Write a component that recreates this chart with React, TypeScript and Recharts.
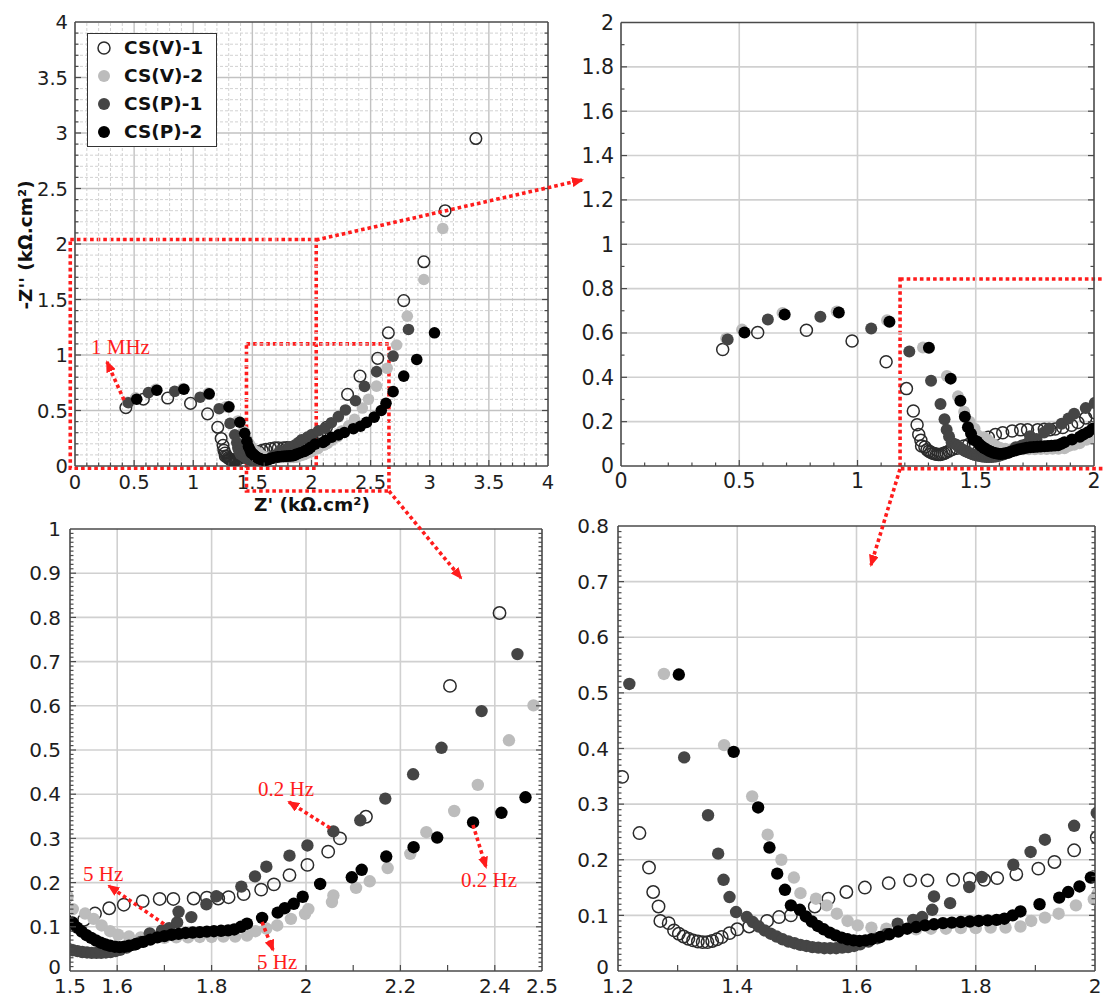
import React from 'react';
import { ScatterChart, Scatter, XAxis, YAxis, ReferenceLine, ReferenceArea, Legend } from 'recharts';

// ---------------- DATA ----------------
const SERIES_NAMES = ['CS(V)-1', 'CS(V)-2', 'CS(P)-1', 'CS(P)-2'];

const csV1: number[][] = [
  [0.43, 0.525], [0.578, 0.602], [0.784, 0.612], [0.977, 0.564], [1.121, 0.47], [1.207, 0.349], [1.236, 0.248],
  [1.252, 0.186], [1.259, 0.142], [1.268, 0.116], [1.271, 0.09], [1.285, 0.086], [1.294, 0.073], [1.302, 0.067],
  [1.31, 0.062], [1.318, 0.058], [1.326, 0.055], [1.334, 0.053], [1.342, 0.052], [1.35, 0.052], [1.358, 0.054],
  [1.366, 0.057], [1.374, 0.061], [1.387, 0.068], [1.4, 0.075], [1.42, 0.08], [1.45, 0.09], [1.47, 0.097],
  [1.49, 0.1], [1.53, 0.116], [1.553, 0.13], [1.583, 0.142], [1.614, 0.15], [1.654, 0.158], [1.69, 0.163],
  [1.719, 0.163], [1.762, 0.164], [1.79, 0.166], [1.814, 0.164], [1.836, 0.167], [1.868, 0.174], [1.905, 0.184],
  [1.932, 0.196], [1.965, 0.217], [2.003, 0.24], [2.047, 0.27], [2.072, 0.3], [2.127, 0.349], [2.305, 0.645],
  [2.41, 0.81], [2.56, 0.97], [2.65, 1.2], [2.78, 1.49], [2.95, 1.84], [3.13, 2.3], [3.39, 2.95],
];

const csV2: number[][] = [
  [0.445, 0.575], [0.512, 0.615], [0.683, 0.69], [0.912, 0.697], [1.125, 0.657], [1.277, 0.534], [1.378, 0.406],
  [1.425, 0.314], [1.451, 0.245], [1.474, 0.2], [1.495, 0.168], [1.506, 0.14], [1.532, 0.13], [1.55, 0.118],
  [1.567, 0.103], [1.585, 0.09], [1.602, 0.082], [1.625, 0.078], [1.65, 0.076], [1.675, 0.075], [1.7, 0.075],
  [1.725, 0.076], [1.75, 0.076], [1.775, 0.077], [1.8, 0.077], [1.825, 0.078], [1.85, 0.078], [1.875, 0.08],
  [1.893, 0.09], [1.916, 0.096], [1.939, 0.103], [1.968, 0.118], [1.998, 0.129], [2.005, 0.14], [2.055, 0.156],
  [2.058, 0.171], [2.106, 0.188], [2.135, 0.203], [2.173, 0.233], [2.221, 0.265], [2.255, 0.314], [2.314, 0.362],
  [2.364, 0.421], [2.43, 0.522], [2.482, 0.601], [2.55, 0.72], [2.64, 0.88], [2.72, 1.09], [2.81, 1.35],
  [2.95, 1.68], [3.11, 2.14],
];

const csP1: number[][] = [
  [0.451, 0.57], [0.621, 0.661], [0.843, 0.673], [1.058, 0.62], [1.219, 0.516], [1.311, 0.384], [1.351, 0.28],
  [1.368, 0.211], [1.377, 0.164], [1.387, 0.133], [1.398, 0.106], [1.416, 0.097], [1.426, 0.088], [1.436, 0.08],
  [1.446, 0.073], [1.456, 0.067], [1.466, 0.062], [1.476, 0.057], [1.486, 0.053], [1.496, 0.05], [1.506, 0.047],
  [1.516, 0.045], [1.526, 0.043], [1.536, 0.042], [1.546, 0.041], [1.556, 0.041], [1.566, 0.041], [1.576, 0.042],
  [1.586, 0.043], [1.596, 0.045], [1.606, 0.048], [1.62, 0.053], [1.635, 0.059], [1.65, 0.066], [1.669, 0.085],
  [1.695, 0.092], [1.71, 0.097], [1.727, 0.11], [1.73, 0.134], [1.757, 0.122], [1.789, 0.151], [1.81, 0.169],
  [1.863, 0.191], [1.892, 0.214], [1.916, 0.236], [1.965, 0.261], [2.003, 0.284], [2.058, 0.316], [2.115, 0.341],
  [2.168, 0.39], [2.227, 0.445], [2.287, 0.505], [2.372, 0.588], [2.448, 0.717], [2.55, 0.85], [2.69, 0.99],
  [2.82, 1.23],
];

const csP2: number[][] = [
  [0.522, 0.602], [0.692, 0.683], [0.921, 0.692], [1.135, 0.65], [1.302, 0.533], [1.394, 0.394], [1.435, 0.294],
  [1.454, 0.222], [1.467, 0.175], [1.48, 0.146], [1.49, 0.118], [1.505, 0.11], [1.515, 0.098], [1.525, 0.089],
  [1.535, 0.081], [1.545, 0.075], [1.555, 0.069], [1.565, 0.064], [1.575, 0.06], [1.585, 0.057], [1.595, 0.055],
  [1.605, 0.054], [1.615, 0.055], [1.625, 0.057], [1.64, 0.061], [1.655, 0.066], [1.67, 0.071], [1.685, 0.076],
  [1.7, 0.079], [1.715, 0.082], [1.73, 0.084], [1.745, 0.086], [1.76, 0.087], [1.775, 0.088], [1.79, 0.089],
  [1.805, 0.09], [1.82, 0.091], [1.835, 0.092], [1.848, 0.094], [1.862, 0.1], [1.875, 0.107], [1.907, 0.12],
  [1.94, 0.132], [1.955, 0.142], [1.974, 0.152], [1.993, 0.168], [2.03, 0.197], [2.097, 0.212], [2.118, 0.229],
  [2.17, 0.259], [2.228, 0.28], [2.278, 0.302], [2.354, 0.336], [2.414, 0.358], [2.465, 0.393], [2.53, 0.44],
  [2.59, 0.5], [2.63, 0.565], [2.69, 0.67], [2.78, 0.81], [2.89, 0.96], [3.04, 1.2],
];

// tick labels
const p1XLabels = [0, 0.5, 1, 1.5, 2, 2.5, 3, 3.5, 4];
const p1YLabels = [0, 0.5, 1, 1.5, 2, 2.5, 3, 3.5, 4];
const p2XLabels = [0, 0.5, 1, 1.5, 2];
const p2YLabels = [0, 0.2, 0.4, 0.6, 0.8, 1, 1.2, 1.4, 1.6, 1.8, 2];
const p3XLabels = [1.5, 1.6, 1.8, 2, 2.2, 2.4, 2.5];
const p3YLabels = [0, 0.1, 0.2, 0.3, 0.4, 0.5, 0.6, 0.7, 0.8, 0.9, 1];
const p4XLabels = [1.2, 1.4, 1.6, 1.8, 2];
const p4YLabels = [0, 0.1, 0.2, 0.3, 0.4, 0.5, 0.6, 0.7, 0.8];

// annotation texts
const ANNOT_1MHZ = '1 MHz';
const ANNOT_02HZ = '0.2 Hz';
const ANNOT_5HZ = '5 Hz';

// ---------------- STYLE / HELPERS ----------------
const RED = '#ff1c1c';
const FRAME = '#4a4a4a';
const FONT = '"DejaVu Sans", "Liberation Sans", Arial, sans-serif';
const SERIF = '"Liberation Serif", "Times New Roman", serif';
const STYLES = [
  { fill: 'none', stroke: '#2b2b2b', sw: 1.5 },
  { fill: '#bcbcbc', stroke: '#bcbcbc', sw: 0 },
  { fill: '#454545', stroke: '#454545', sw: 0 },
  { fill: '#000000', stroke: '#000000', sw: 0 },
];
const SERIES = [csV1, csV2, csP1, csP2].map((a) => a.map(([x, y]) => ({ x, y })));

const rnd = (v: number) => Math.round(v * 1e6) / 1e6;
const steps = (a: number, b: number, s: number) => {
  const out: number[] = [];
  const n = Math.round((b - a) / s);
  for (let i = 0; i <= n; i++) out.push(rnd(a + i * s));
  return out;
};
const uniq = (...arrs: number[][]) => Array.from(new Set(arrs.flat().map(rnd))).sort((p, q) => p - q);
const has = (arr: number[], v: number) => arr.some((t) => Math.abs(t - v) < 1e-7);

type AxisSpec = {
  domain: [number, number];
  labels: number[];
  long: number[];
  short: number[];
  grid: number[];
  minorGrid?: number[];
};
type PanelSpec = {
  left: number; top: number; width: number; height: number;
  plot: { left: number; top: number; right: number; bottom: number };
  x: AxisSpec; y: AxisSpec;
  fontSize: number; xGap: number; yGap: number;
  gridColor: string; gridWidth: number;
  r: number;
  zeroLift: number;
};

function makeTick(
  side: 'bottom' | 'top' | 'left' | 'right',
  spec: AxisSpec,
  gap: number,
  fontSize: number,
  zeroLift = 0,
) {
  return (props: any) => {
    const { x, y, payload } = props;
    const v = payload.value;
    const isLabel = has(spec.labels, v);
    const isLong = isLabel || has(spec.long, v);
    const len = isLong ? 6 : 3.5;
    const atMin = Math.abs(v - spec.domain[0]) < 1e-7;
    const edge = atMin || Math.abs(v - spec.domain[1]) < 1e-7;
    let line: React.ReactNode = null;
    let text: React.ReactNode = null;
    if (side === 'bottom') {
      const y0 = y - gap;
      if (!edge) line = <line x1={x} y1={y0} x2={x} y2={y0 - len} stroke={FRAME} strokeWidth={1.2} />;
      if (isLabel)
        text = (
          <text x={x} y={y} dy="0.73em" textAnchor="middle" fontSize={fontSize} fontFamily={FONT} fill="#1e1e1e">
            {String(v)}
          </text>
        );
    } else if (side === 'left') {
      const x0 = x + gap;
      if (!edge) line = <line x1={x0} y1={y} x2={x0 + len} y2={y} stroke={FRAME} strokeWidth={1.2} />;
      if (isLabel)
        text = (
          <text
            x={x}
            y={atMin ? y - zeroLift : y}
            dy="0.36em"
            textAnchor="end"
            fontSize={fontSize}
            fontFamily={FONT}
            fill="#1e1e1e"
          >
            {String(v)}
          </text>
        );
    } else if (side === 'top') {
      if (!edge) line = <line x1={x} y1={y} x2={x} y2={y + len} stroke={FRAME} strokeWidth={1.2} />;
    } else {
      if (!edge) line = <line x1={x} y1={y} x2={x - len} y2={y} stroke={FRAME} strokeWidth={1.2} />;
    }
    return (
      <g>
        {line}
        {text}
      </g>
    );
  };
}

function LegendBox() {
  return (
    <div
      style={{
        width: 130,
        height: 114,
        boxSizing: 'border-box',
        border: '1.5px solid #333',
        background: '#fff',
        fontFamily: FONT,
        fontWeight: 'bold',
        fontSize: 18.5,
        color: '#111',
      }}
    >
      {SERIES_NAMES.map((n, i) => (
        <div key={n} style={{ display: 'flex', alignItems: 'center', height: 28 }}>
          <svg width={34} height={16} style={{ flex: 'none' }}>
            <circle cx={16} cy={8} r={6} fill={STYLES[i].fill} stroke={STYLES[i].stroke} strokeWidth={STYLES[i].sw || 0} />
          </svg>
          <span style={{ marginLeft: 2, lineHeight: '28px' }}>{n}</span>
        </div>
      ))}
    </div>
  );
}

function renderPanel(spec: PanelSpec, extras: React.ReactNode[]) {
  const { x, y, plot } = spec;
  const xt = uniq(x.labels, x.long, x.short);
  const yt = uniq(y.labels, y.long, y.short);
  const margin = { top: plot.top - 1, right: spec.width - plot.right - 1, bottom: 0, left: 0 };
  const axisLine = { stroke: FRAME, strokeWidth: 1.6 };
  const interior = (arr: number[], d: [number, number]) => arr.filter((v) => v > d[0] + 1e-7 && v < d[1] - 1e-7);
  return (
    <div style={{ position: 'absolute', left: spec.left, top: spec.top, width: spec.width, height: spec.height }}>
      <ScatterChart width={spec.width} height={spec.height} margin={margin}>
        {interior(x.minorGrid || [], x.domain).map((v) => (
          <ReferenceLine key={'mx' + v} x={v} stroke="#d2d2d2" strokeWidth={1} strokeDasharray="3 2" />
        ))}
        {interior(y.minorGrid || [], y.domain).map((v) => (
          <ReferenceLine key={'my' + v} y={v} stroke="#d2d2d2" strokeWidth={1} strokeDasharray="3 2" />
        ))}
        {interior(x.grid, x.domain).map((v) => (
          <ReferenceLine key={'gx' + v} x={v} stroke={spec.gridColor} strokeWidth={spec.gridWidth} />
        ))}
        {interior(y.grid, y.domain).map((v) => (
          <ReferenceLine key={'gy' + v} y={v} stroke={spec.gridColor} strokeWidth={spec.gridWidth} />
        ))}
        <XAxis
          type="number"
          dataKey="x"
          domain={x.domain}
          allowDataOverflow
          ticks={xt}
          interval={0}
          height={spec.height - plot.bottom}
          tickSize={0}
          tickMargin={spec.xGap}
          tickLine={false}
          axisLine={axisLine}
          tick={makeTick('bottom', x, spec.xGap, spec.fontSize)}
        />
        <XAxis
          xAxisId="top"
          orientation="top"
          type="number"
          domain={x.domain}
          allowDataOverflow
          ticks={xt}
          interval={0}
          height={1}
          tickSize={0}
          tickMargin={0}
          tickLine={false}
          axisLine={axisLine}
          tick={makeTick('top', x, 0, spec.fontSize)}
        />
        <YAxis
          type="number"
          dataKey="y"
          domain={y.domain}
          allowDataOverflow
          ticks={yt}
          interval={0}
          width={plot.left}
          tickSize={0}
          tickMargin={spec.yGap}
          tickLine={false}
          axisLine={axisLine}
          tick={makeTick('left', y, spec.yGap, spec.fontSize, spec.zeroLift)}
        />
        <YAxis
          yAxisId="right"
          orientation="right"
          type="number"
          domain={y.domain}
          allowDataOverflow
          ticks={yt}
          interval={0}
          width={1}
          tickSize={0}
          tickMargin={0}
          tickLine={false}
          axisLine={axisLine}
          tick={makeTick('right', y, 0, spec.fontSize)}
        />
        {SERIES.map((data, i) => (
          <Scatter
            key={SERIES_NAMES[i]}
            name={SERIES_NAMES[i]}
            data={data}
            isAnimationActive={false}
            shape={(p: any) => (
              <circle
                cx={p.cx}
                cy={p.cy}
                r={spec.r}
                fill={STYLES[i].fill}
                stroke={STYLES[i].stroke}
                strokeWidth={STYLES[i].sw}
              />
            )}
          />
        ))}
        {extras}
      </ScatterChart>
    </div>
  );
}

const redRect = { fill: 'none', fillOpacity: 0, stroke: RED, strokeWidth: 3.6, strokeDasharray: '3.6 3', ifOverflow: 'visible' as const };

const panel1: PanelSpec = {
  left: 0, top: 0, width: 580, height: 520,
  plot: { left: 75, top: 22, right: 548, bottom: 466 },
  x: { domain: [0, 4], labels: p1XLabels, long: [], short: steps(0, 4, 0.1), grid: p1XLabels, minorGrid: steps(0, 4, 0.1).filter((v) => !has(p1XLabels, v)) },
  y: { domain: [0, 4], labels: p1YLabels, long: [], short: steps(0, 4, 0.1), grid: p1YLabels, minorGrid: steps(0, 4, 0.1).filter((v) => !has(p1YLabels, v)) },
  fontSize: 19.5, xGap: 9, yGap: 7, gridColor: '#c2c2c2', gridWidth: 1.4, r: 5.8, zeroLift: 0,
};
const panel2: PanelSpec = {
  left: 580, top: 0, width: 523, height: 500,
  plot: { left: 41, top: 22.5, right: 514, bottom: 466 },
  x: { domain: [0, 2], labels: p2XLabels, long: [], short: steps(0, 2, 0.1), grid: p2XLabels },
  y: { domain: [0, 2], labels: p2YLabels, long: [], short: steps(0, 2, 0.1), grid: p2YLabels },
  fontSize: 20.5, xGap: 7, yGap: 7, gridColor: '#d0d0d0', gridWidth: 1.6, r: 6, zeroLift: 0,
};
const panel3: PanelSpec = {
  left: 0, top: 500, width: 560, height: 498,
  plot: { left: 70, top: 29, right: 542, bottom: 471 },
  x: { domain: [1.5, 2.5], labels: p3XLabels, long: steps(1.5, 2.5, 0.1), short: [], grid: [1.6, 1.8, 2, 2.2, 2.4] },
  y: { domain: [0, 1], labels: p3YLabels, long: [], short: steps(0, 1, 0.01), grid: p3YLabels },
  fontSize: 20, xGap: 7, yGap: 9, gridColor: '#d0d0d0', gridWidth: 1.6, r: 6.2, zeroLift: 4,
};
const panel4: PanelSpec = {
  left: 560, top: 500, width: 543, height: 498,
  plot: { left: 58, top: 26, right: 535, bottom: 471 },
  x: { domain: [1.2, 2], labels: p4XLabels, long: steps(1.2, 2, 0.1), short: [], grid: p4XLabels },
  y: { domain: [0, 0.8], labels: p4YLabels, long: [], short: steps(0, 0.8, 0.01), grid: p4YLabels },
  fontSize: 20, xGap: 7, yGap: 9, gridColor: '#d0d0d0', gridWidth: 1.6, r: 6.2, zeroLift: 4,
};

function Overlay() {
  const arrows = [
    [316, 240, 582, 180],
    [389, 491, 461, 578],
    [900, 469, 871, 565],
    [124, 400, 107, 362],
    [330, 828, 289, 802],
    [473, 825, 486, 867],
    [164, 924, 109, 886],
    [262, 922, 273, 950],
  ];
  return (
    <svg width={1103} height={998} style={{ position: 'absolute', left: 0, top: 0, pointerEvents: 'none' }}>
      <defs>
        <marker id="ah" viewBox="0 0 12 10" refX="10" refY="5" markerWidth="12" markerHeight="10" markerUnits="userSpaceOnUse" orient="auto">
          <path d="M0,0 L12,5 L0,10 z" fill={RED} />
        </marker>
      </defs>
      {arrows.map(([x1, y1, x2, y2], i) => (
        <line key={i} x1={x1} y1={y1} x2={x2} y2={y2} stroke={RED} strokeWidth={3.6} strokeDasharray="3.6 3" markerEnd="url(#ah)" />
      ))}
      <g fill={RED} fontFamily={SERIF} fontSize={21}>
        <text x={91} y={354}>{ANNOT_1MHZ}</text>
        <text x={258} y={796}>{ANNOT_02HZ}</text>
        <text x={461} y={887}>{ANNOT_02HZ}</text>
        <text x={83} y={881}>{ANNOT_5HZ}</text>
        <text x={257} y={969}>{ANNOT_5HZ}</text>
      </g>
    </svg>
  );
}

export default function App() {
  const p1Extras = [
    <ReferenceArea key="r1" x1={-0.04} x2={2.04} y1={-0.02} y2={2.04} {...redRect} />,
    <ReferenceArea key="r2" x1={1.45} x2={2.655} y1={-0.225} y2={1.1} {...redRect} />,
    <Legend
      key="lg"
      layout="vertical"
      align="center"
      verticalAlign="middle"
      content={() => <LegendBox />}
      wrapperStyle={{ left: 87, top: 33, width: 130 }}
    />,
  ];
  const p2Extras = [<ReferenceArea key="r3" x1={1.18} x2={2.1} y1={-0.012} y2={0.843} {...redRect} />];
  return (
    <div style={{ position: 'absolute', left: 0, top: 0, width: 1103, height: 998, background: '#fff', overflow: 'hidden' }}>
      {renderPanel(panel1, p1Extras)}
      {renderPanel(panel2, p2Extras)}
      {renderPanel(panel3, [])}
      {renderPanel(panel4, [])}
      <svg width={1103} height={998} style={{ position: 'absolute', left: 0, top: 0, pointerEvents: 'none' }}>
        <text x={312} y={504} dy="0.36em" textAnchor="middle" fontFamily={FONT} fontWeight="bold" fontSize={18.5} fill="#111">
          {"Z' (kΩ.cm²)"}
        </text>
        <text
          x={25}
          y={245}
          dy="0.36em"
          textAnchor="middle"
          fontFamily={FONT}
          fontWeight="bold"
          fontSize={18.5}
          fill="#111"
          transform="rotate(-90 25 245)"
        >
          {"-Z'' (kΩ.cm²)"}
        </text>
      </svg>
      <Overlay />
    </div>
  );
}
